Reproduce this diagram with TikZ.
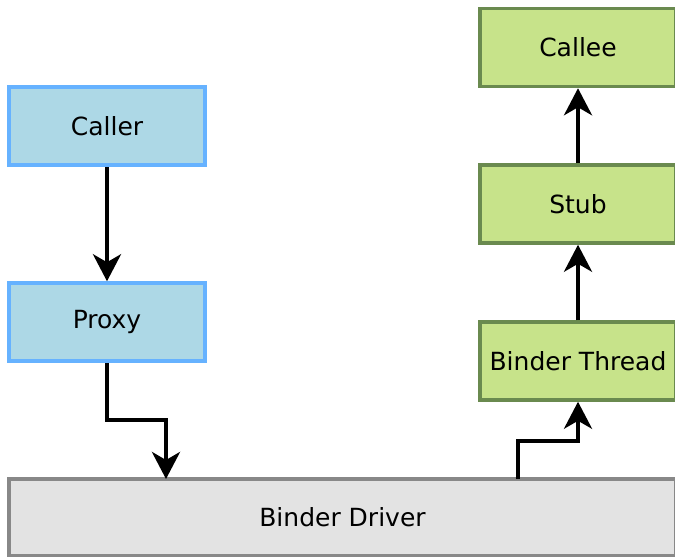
\documentclass[tikz,border=0pt]{standalone}
\usepackage{fontspec}
\setmainfont{DejaVu Sans}
\usetikzlibrary{arrows.meta}
\definecolor{bluefill}{HTML}{ADD8E6}
\definecolor{blueline}{HTML}{66B2FF}
\definecolor{greenfill}{HTML}{C7E38A}
\definecolor{greenline}{HTML}{6A8A4F}
\definecolor{greyfill}{HTML}{E3E3E3}
\definecolor{greyline}{HTML}{888888}
\tikzset{
  box/.style={draw, line width=3.5pt, minimum width=196pt, minimum height=78pt,
    inner sep=0pt, font=\fontsize{25}{30}\selectfont},
  bluebox/.style={box, fill=bluefill, draw=blueline},
  greenbox/.style={box, fill=greenfill, draw=greenline},
  greybox/.style={box, fill=greyfill, draw=greyline},
  flow/.style={line width=4pt, -{Stealth[length=27pt, width=28pt, inset=8pt]}},
}
\begin{document}
\begin{tikzpicture}[x=1pt, y=-1pt]
  \useasboundingbox (0,0) rectangle (675,557);
  % caller side
  \node[bluebox] (caller) at (107,126) {Caller};
  \node[bluebox] (proxy)  at (107,322) {Proxy};
  % callee side
  \node[greenbox] (callee) at (578,47.5)  {Callee};
  \node[greenbox] (stub)   at (578,204)   {Stub};
  \node[greenbox] (thread) at (578,361)   {Binder Thread};
  % kernel driver across the bottom
  \node[greybox, minimum width=667pt, minimum height=77pt] (driver) at (342.5,517.5) {Binder Driver};
  % connectors
  \draw[flow] (caller) -- (proxy);
  \draw[flow] (proxy.south) |- (166,420) -- (166,479) coordinate (drvin);
  \draw[flow] (518,479) coordinate (drvout) |- (578,441) -- (thread.south);
  \draw[flow] (thread) -- (stub);
  \draw[flow] (stub) -- (callee);
\end{tikzpicture}
\end{document}
